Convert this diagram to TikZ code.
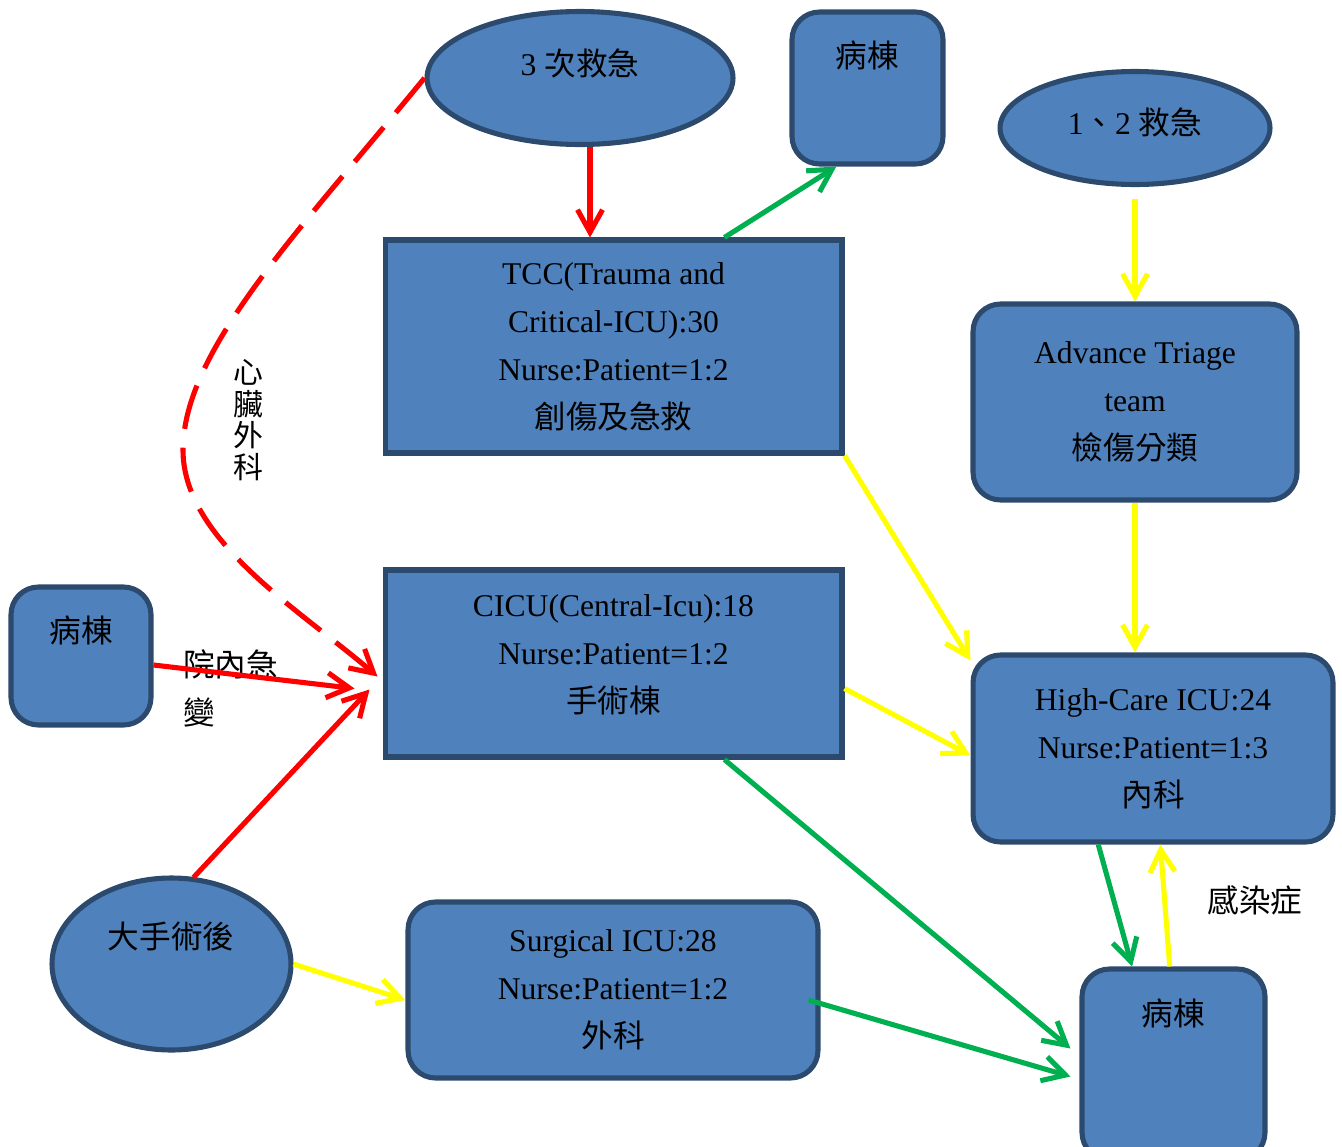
\documentclass[tikz,border=0pt]{standalone}
\usepackage{fontspec}
\setmainfont{Liberation Serif}
\newfontfamily\cjk{Noto Sans CJK TC}
\usepackage{tikz}
\usetikzlibrary{positioning}
\usetikzlibrary{calc}
\usetikzlibrary{arrows.meta}
\usetikzlibrary{shapes}
\definecolor{boxblue}{HTML}{4F81BD}
\definecolor{boxedge}{HTML}{2C4A6E}
\definecolor{arrred}{HTML}{FF0000}
\definecolor{arrgreen}{HTML}{00B050}
\definecolor{arryellow}{HTML}{FFFF00}

\begin{document}
\begin{tikzpicture}[
    x=0.02cm, y=-0.02cm,              % one unit = one pixel of the sketch
    font=\fontsize{18}{27.3}\selectfont,
    ]
% -------------------------------------------------
\tikzset{
  base/.style={draw=boxedge, fill=boxblue, line width=2.9pt, align=center, inner sep=0pt},
  unit/.style={base, rectangle},
  ward/.style={base, rectangle, rounded corners=0.55cm},
  entry/.style={base, ellipse},
  txt/.style={align=center, inner sep=0pt},
  line/.style={line width=2.9pt, -{Straight Barb[length=0.45cm,width=0.5cm]}},
  redline/.style={line, draw=arrred},
  greenline/.style={line, draw=arrgreen},
  yellowline/.style={line, draw=arryellow},
  dashline/.style={redline, dash pattern=on 0.9cm off 0.38cm}
}
\useasboundingbox (0,0) rectangle (1342,1146);
\clip (0,0) rectangle (1342,1146);
% -------------------------------------------------
% Placing the nodes

\node [entry, minimum width=6.12cm, minimum height=2.66cm] (tri3) at (580,78) {};
\node [txt] (tri3t) at (580,63) {3 {\cjk 次救急}};

\node [ward, minimum width=3.02cm, minimum height=3.04cm] (ward1) at (867.5,88) {};
\node [txt] (ward1t) at (867,55) {\cjk 病棟};

\node [entry, minimum width=5.4cm, minimum height=2.26cm] (tri12) at (1135,128) {};
\node [txt] (tri12t) at (1135,122) {1{\cjk 、}2 {\cjk 救急}};

\node [unit, minimum width=9.14cm, minimum height=4.26cm] (tcc) at (613.5,346.5)
  {TCC(Trauma and\\Critical-ICU):30\\Nurse:Patient=1:2\\{\cjk 創傷及急救}};

\node [ward, minimum width=6.48cm, minimum height=3.92cm] (adv) at (1135,402)
  {Advance Triage\\team\\{\cjk 檢傷分類}};

\node [unit, minimum width=9.14cm, minimum height=3.74cm] (cicu) at (613.5,663.5) {};
\node [txt] (cicut) at (613.5,655)
  {CICU(Central-Icu):18\\Nurse:Patient=1:2\\{\cjk 手術棟}};

\node [ward, minimum width=2.8cm, minimum height=2.76cm] (ward2) at (81,656) {};
\node [txt] (ward2t) at (81,630) {\cjk 病棟};

\node [ward, minimum width=7.2cm, minimum height=3.74cm] (high) at (1153,748.5)
  {High-Care ICU:24\\Nurse:Patient=1:3\\{\cjk 內科}};

\node [entry, minimum width=4.78cm, minimum height=3.44cm] (big) at (171.5,964) {};
\node [txt] (bigt) at (171,937) {\cjk 大手術後};

\node [ward, minimum width=8.2cm, minimum height=3.52cm] (surg) at (613,990)
  {Surgical ICU:28\\Nurse:Patient=1:2\\{\cjk 外科}};

\node [ward, minimum width=3.66cm, minimum height=3.82cm] (ward3) at (1173.5,1064.5) {};
\node [txt] (ward3t) at (1173,1013) {\cjk 病棟};

% side notes
\node [txt, font=\cjk\fontsize{17}{18}\selectfont] (heart) at (248,420) {心\\臟\\外\\科};
\node [txt, align=left, anchor=west] (inhosp) at (183,688) {\cjk 院內急\\\cjk 變};
\node [txt] (infect) at (1255,900) {\cjk 感染症};

% -------------------------------------------------
% Connectors

\path [redline] ($(tri3.south)+(10,0)$) -- ($(tri3.south |- tcc.north)+(10,0)$);
\path [greenline] ($(tcc.north west)!0.74!(tcc.north east)$) -- ($(ward1.south west)!0.3!(ward1.south east)$);
\path [yellowline, shorten <=0.24cm] (tri12.south) -- (adv.north);
\path [yellowline] (tcc.south east) -- ($(high.north west)+(0,8)$);
\path [yellowline] (adv.south) -- (adv.south |- high.north);
\path [yellowline] ($(cicu.east)+(0,25)$) -- ($(high.west)+(0,7)$);
\path [greenline] ($(cicu.south west)!0.74!(cicu.south east)$) -- ($(ward3.west)+(-9,-16)$);
\path [greenline] ($(high.south west)!0.35!(high.south east)$) -- ($(ward3.north west)!0.28!(ward3.north east)$);
\path [yellowline] ($(ward3.north west)!0.48!(ward3.north east)$) -- ($(high.south west)!0.52!(high.south east)$);
\path [redline] ($(ward2.east)+(0,9)$) -- ($(cicu.west)+(-28,25)$);
\path [redline] ($(big.north)+(22,2)$) -- ($(cicu.west)+(-13,26)$);
\path [dashline] (tri3.west) .. controls (300,230) and (183,350) .. (183,450)
                             .. controls (183,540) and (300,610) .. ($(cicu.west)+(-5,13)$);
\path [yellowline] (big.east) -- ($(surg.west)+(0,10)$);
\path [greenline] ($(surg.east)+(-12,10)$) -- ($(ward3.west)+(-9,12)$);

\end{tikzpicture}
\end{document}
